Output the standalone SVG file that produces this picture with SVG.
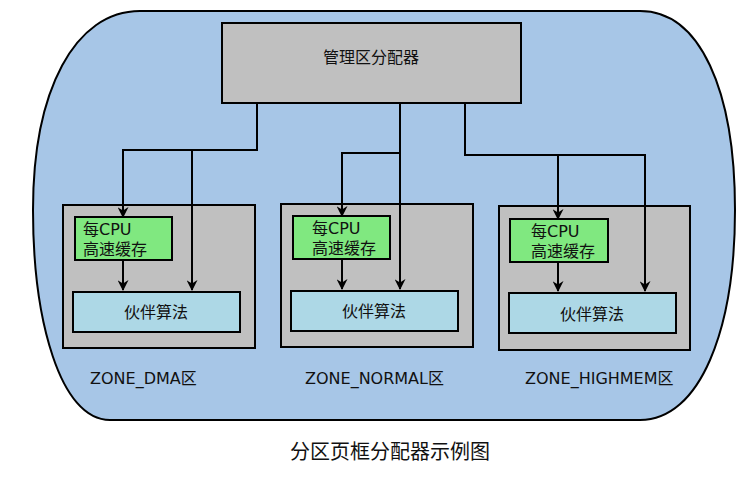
<svg xmlns="http://www.w3.org/2000/svg" width="753" height="486" viewBox="0 0 753 486">
<style>
text{font-family:"DejaVu Sans","Noto Sans CJK SC",sans-serif;font-size:16px;fill:#111}
.g{fill:#c0c0c0;stroke:#000;stroke-width:2}
.c{fill:#80e880;stroke:#000;stroke-width:2}
.b{fill:#add8e6;stroke:#000;stroke-width:2}
.l{fill:none;stroke:#000;stroke-width:2}
</style>
<defs><marker id="a" viewBox="0 0 10 10" refX="9" refY="5" markerWidth="13" markerHeight="11" orient="auto" markerUnits="userSpaceOnUse"><path d="M0,0L10,5L0,10L3,5z" fill="#000"/></marker></defs>
<rect width="753" height="486" fill="#fff"/>
<path id="outer" d="M140,11 L640,11 C700,11 735,90 735,210 C735,330 700,420 640,420 L110,420 C60,420 33,320 33,210 C33,90 75,11 140,11 Z" fill="#a7c6e7" stroke="#000" stroke-width="2"/>
<g id="top"><rect class="g" x="222" y="23" width="299" height="80"/><text x="371" y="63" text-anchor="middle">管理区分配器</text></g>
<g id="zdma"><rect class="g" x="63" y="205" width="192" height="143"/>
<rect class="c" x="75" y="217" width="97" height="43"/><text x="83" y="235">每CPU</text><text x="83" y="255">高速缓存</text>
<rect class="b" x="73" y="292" width="167" height="40"/><text x="156" y="318" text-anchor="middle">伙伴算法</text>
<text x="90" y="384">ZONE_DMA区</text></g>
<g id="znormal"><rect class="g" x="281" y="204" width="192" height="143"/>
<rect class="c" x="293" y="216" width="97" height="43"/><text x="312" y="234">每CPU</text><text x="312" y="254">高速缓存</text>
<rect class="b" x="291" y="291" width="167" height="40"/><text x="374" y="317" text-anchor="middle">伙伴算法</text>
<text x="305" y="384">ZONE_NORMAL区</text></g>
<g id="zhigh"><rect class="g" x="499" y="206" width="191" height="144"/>
<rect class="c" x="510" y="219" width="98" height="43"/><text x="531" y="237">每CPU</text><text x="531" y="257">高速缓存</text>
<rect class="b" x="509" y="293" width="167" height="40"/><text x="592" y="320" text-anchor="middle">伙伴算法</text>
<text x="525" y="384">ZONE_HIGHMEM区</text></g>
<g id="connectors" class="l">
<path class="l" d="M257,103V150H123V217" marker-end="url(#a)"/>
<path class="l" d="M192,150V290" marker-end="url(#a)"/>
<path class="l" d="M123,260V290" marker-end="url(#a)"/>
<path class="l" d="M400,103V289" marker-end="url(#a)"/>
<path class="l" d="M400,153H342V216" marker-end="url(#a)"/>
<path class="l" d="M342,259V289" marker-end="url(#a)"/>
<path class="l" d="M465,103V155H645V291" marker-end="url(#a)"/>
<path class="l" d="M558,155V219" marker-end="url(#a)"/>
<path class="l" d="M558,262V291" marker-end="url(#a)"/>
</g>
<text x="390" y="459" text-anchor="middle" style="font-size:20px">分区页框分配器示例图</text>
</svg>
